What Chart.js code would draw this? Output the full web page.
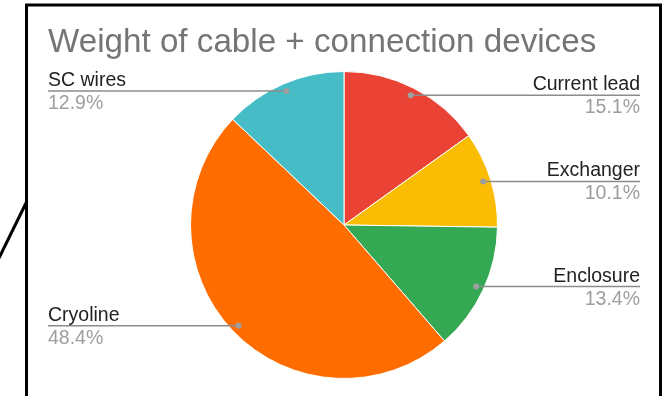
<!DOCTYPE html>
<html>
<head>
<meta charset="utf-8">
<script src="https://cdn.jsdelivr.net/npm/chart.js@4.4.1/dist/chart.umd.min.js"></script>
<style>
  html, body { margin: 0; padding: 0; background: #fff; }
  #wrap { width: 666px; height: 396px; position: relative; }
</style>
</head>
<body>
<div id="wrap"><canvas id="pie" width="666" height="396"></canvas></div>
<script>
// slice data, clockwise from 12 o'clock
const chartTitle = "Weight of cable + connection devices";
const categories = ["Current lead", "Exchanger", "Enclosure", "Cryoline", "SC wires"];
const shares = [15.1, 10.1, 13.4, 48.4, 12.9];
const sliceColors = ["#ea4335", "#fbbc04", "#34a853", "#ff6d01", "#46bdc6"];

const FONT = "'Liberation Sans', Arial, sans-serif";

// frame, title and the side labels with their leader lines
const decorations = {
  id: "decorations",
  afterDraw(chart) {
    const ctx = chart.ctx;
    ctx.save();

    // black frame + diagonal stroke on the left edge
    ctx.strokeStyle = "#000";
    ctx.lineWidth = 3;
    ctx.beginPath();
    ctx.moveTo(26.5, 400);
    ctx.lineTo(26.5, 5);
    ctx.lineTo(660.5, 5);
    ctx.lineTo(660.5, 400);
    ctx.stroke();
    ctx.beginPath();
    ctx.moveTo(-1, 258);
    ctx.lineTo(27, 201);
    ctx.stroke();

    // title
    ctx.fillStyle = "#757575";
    ctx.font = "33.2px " + FONT;
    ctx.textBaseline = "alphabetic";
    ctx.textAlign = "left";
    ctx.fillText(chartTitle, 48, 52);

    // labels
    const meta = chart.getDatasetMeta(0);
    const leftX = 48, rightX = 640;
    meta.data.forEach((arc, i) => {
      const p = arc.getProps(["x", "y", "startAngle", "endAngle", "outerRadius"], true);
      const mid = (p.startAngle + p.endAngle) / 2;
      const r = p.outerRadius * 0.95;
      const dx = p.x + Math.cos(mid) * r;
      const dy = p.y + Math.sin(mid) * r;
      const right = dx > p.x;
      const lx = right ? rightX : leftX;

      ctx.strokeStyle = "#8c8c8c";
      ctx.lineWidth = 1.5;
      ctx.beginPath();
      ctx.moveTo(dx, dy);
      ctx.lineTo(lx, dy);
      ctx.stroke();

      ctx.fillStyle = "#9e9e9e";
      ctx.beginPath();
      ctx.arc(dx, dy, 3, 0, Math.PI * 2);
      ctx.fill();

      ctx.textAlign = right ? "right" : "left";
      ctx.font = "19.5px " + FONT;
      ctx.fillStyle = "#222";
      ctx.fillText(categories[i], lx, dy - 5);
      ctx.fillStyle = "#9e9e9e";
      ctx.fillText(shares[i].toFixed(1) + "%", lx, dy + 18);
    });

    ctx.restore();
  }
};

new Chart(document.getElementById("pie"), {
  type: "pie",
  data: {
    labels: categories,
    datasets: [{
      data: shares,
      backgroundColor: sliceColors,
      borderColor: "#fff",
      borderWidth: 1
    }]
  },
  options: {
    responsive: false,
    animation: false,
    layout: { padding: { top: 71, bottom: 17, left: 190, right: 168 } },
    plugins: {
      legend: { display: false },
      tooltip: { enabled: false },
      title: { display: false }
    }
  },
  plugins: [decorations]
});
</script>
</body>
</html>
